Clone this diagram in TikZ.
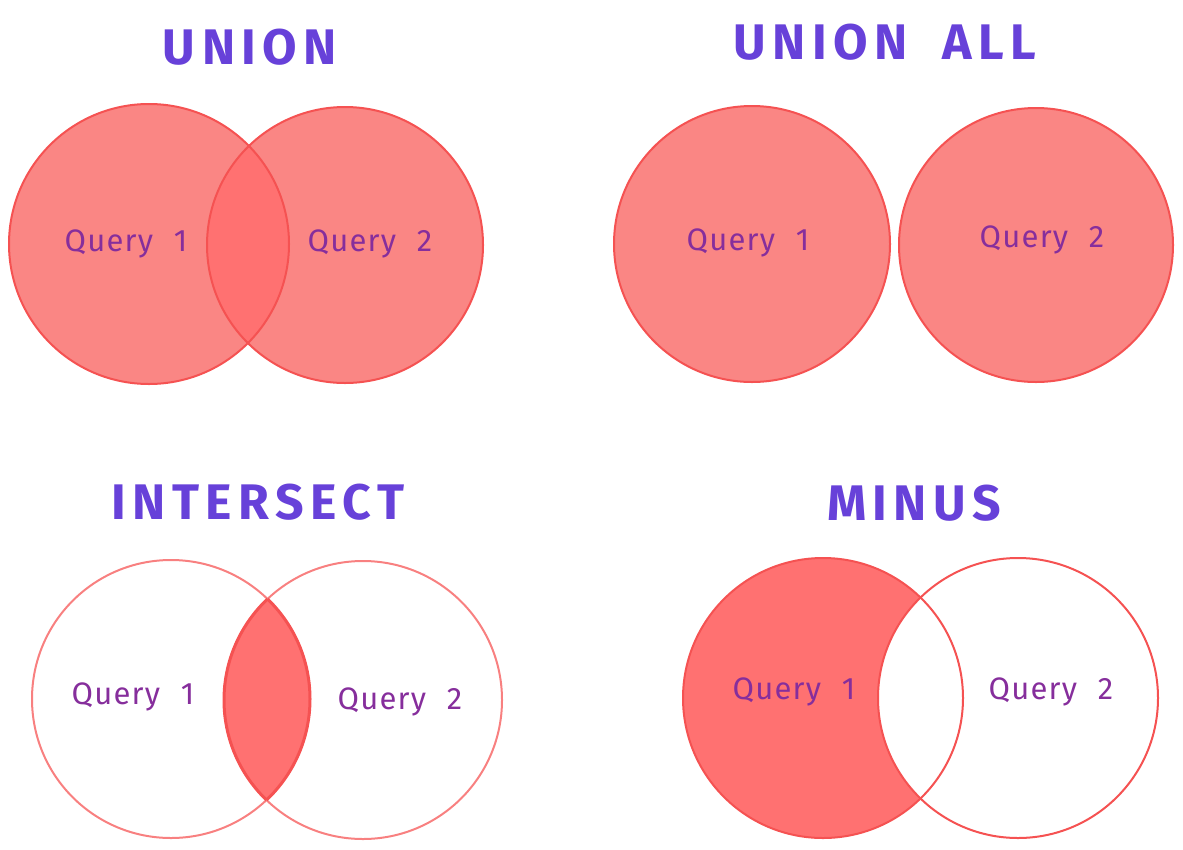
\documentclass[tikz,border=0pt]{standalone}
\usepackage{fontspec}
\setmainfont{Fira Sans}
\newfontfamily\ttlfont[LetterSpace=13,WordSpace=1.9]{Fira Sans}
\newfontfamily\qfont[LetterSpace=4,WordSpace=2.2]{Fira Sans}
\definecolor{ttl}{RGB}{103,65,217}
\definecolor{lbl}{RGB}{134,46,156}
\definecolor{fillA}{RGB}{250,134,132}
\definecolor{fillB}{RGB}{255,113,113}
\definecolor{strk}{RGB}{245,82,82}
\definecolor{strkL}{RGB}{248,128,128}
\begin{document}
\begin{tikzpicture}[x=1pt,y=-1pt,
  title/.style={text=ttl,font=\ttlfont\bfseries\fontsize{50}{52}\selectfont,inner sep=0pt},
  qlabel/.style={text=lbl,font=\qfont\fontsize{31}{33}\selectfont,inner sep=0pt},
  edge/.style={draw=strk,line width=2pt},
  edgeL/.style={draw=strkL,line width=2pt},
  edgeT/.style={draw=strk,line width=3pt}]
\useasboundingbox (0,0) rectangle (1183,849);
% ---------------- UNION ----------------
\fill[fillA] (149,244) circle[radius=140pt];
\fill[fillA] (345,245) circle[radius=138pt];
\begin{scope}
  \clip (149,244) circle[radius=140pt];
  \fill[fillB] (345,245) circle[radius=138pt];
\end{scope}
\path[edge] (149,244) circle[radius=140pt];
\path[edge] (345,245) circle[radius=138pt];
\node[title] (tunion) at (250,47) {UNION};
\node[qlabel] (u1) at (126,244) {Query 1};
\node[qlabel] (u2) at (370,244) {Query 2};
% ---------------- UNION ALL ----------------
\fill[fillA] (752,244) circle[radius=138pt];
\fill[fillA] (1036,245) circle[radius=137pt];
\path[edge] (752,244) circle[radius=138pt];
\path[edge] (1036,245) circle[radius=137pt];
\node[title] (tunionall) at (885,42) {UNION ALL};
\node[qlabel] (ua1) at (748,243) {Query 1};
\node[qlabel] (ua2) at (1042,240) {Query 2};
% ---------------- INTERSECT ----------------
\begin{scope}
  \clip (171,699) circle[radius=139pt];
  \fill[fillB] (363,700) circle[radius=139pt];
\end{scope}
\path[edgeL] (171,699) circle[radius=139pt];
\path[edgeL] (363,700) circle[radius=139pt];
\begin{scope}
  \clip (171,699) circle[radius=139pt];
  \path[edgeT] (363,700) circle[radius=139pt];
\end{scope}
\begin{scope}
  \clip (363,700) circle[radius=139pt];
  \path[edgeT] (171,699) circle[radius=139pt];
\end{scope}
\node[title] (tinter) at (258,502) {INTERSECT};
\node[qlabel] (i1) at (133,697) {Query 1};
\node[qlabel] (i2) at (400,702) {Query 2};
% ---------------- MINUS ----------------
\fill[fillB] (823,698) circle[radius=140pt];
\begin{scope}
  \clip (823,698) circle[radius=140pt];
  \fill[white] (1018,698) circle[radius=140pt];
\end{scope}
\path[edge] (823,698) circle[radius=140pt];
\path[edge] (1018,698) circle[radius=140pt];
\node[title] (tminus) at (914,503) {MINUS};
\node[qlabel] (m1) at (794,692) {Query 1};
\node[qlabel] (m2) at (1051,692) {Query 2};
\end{tikzpicture}
\end{document}
